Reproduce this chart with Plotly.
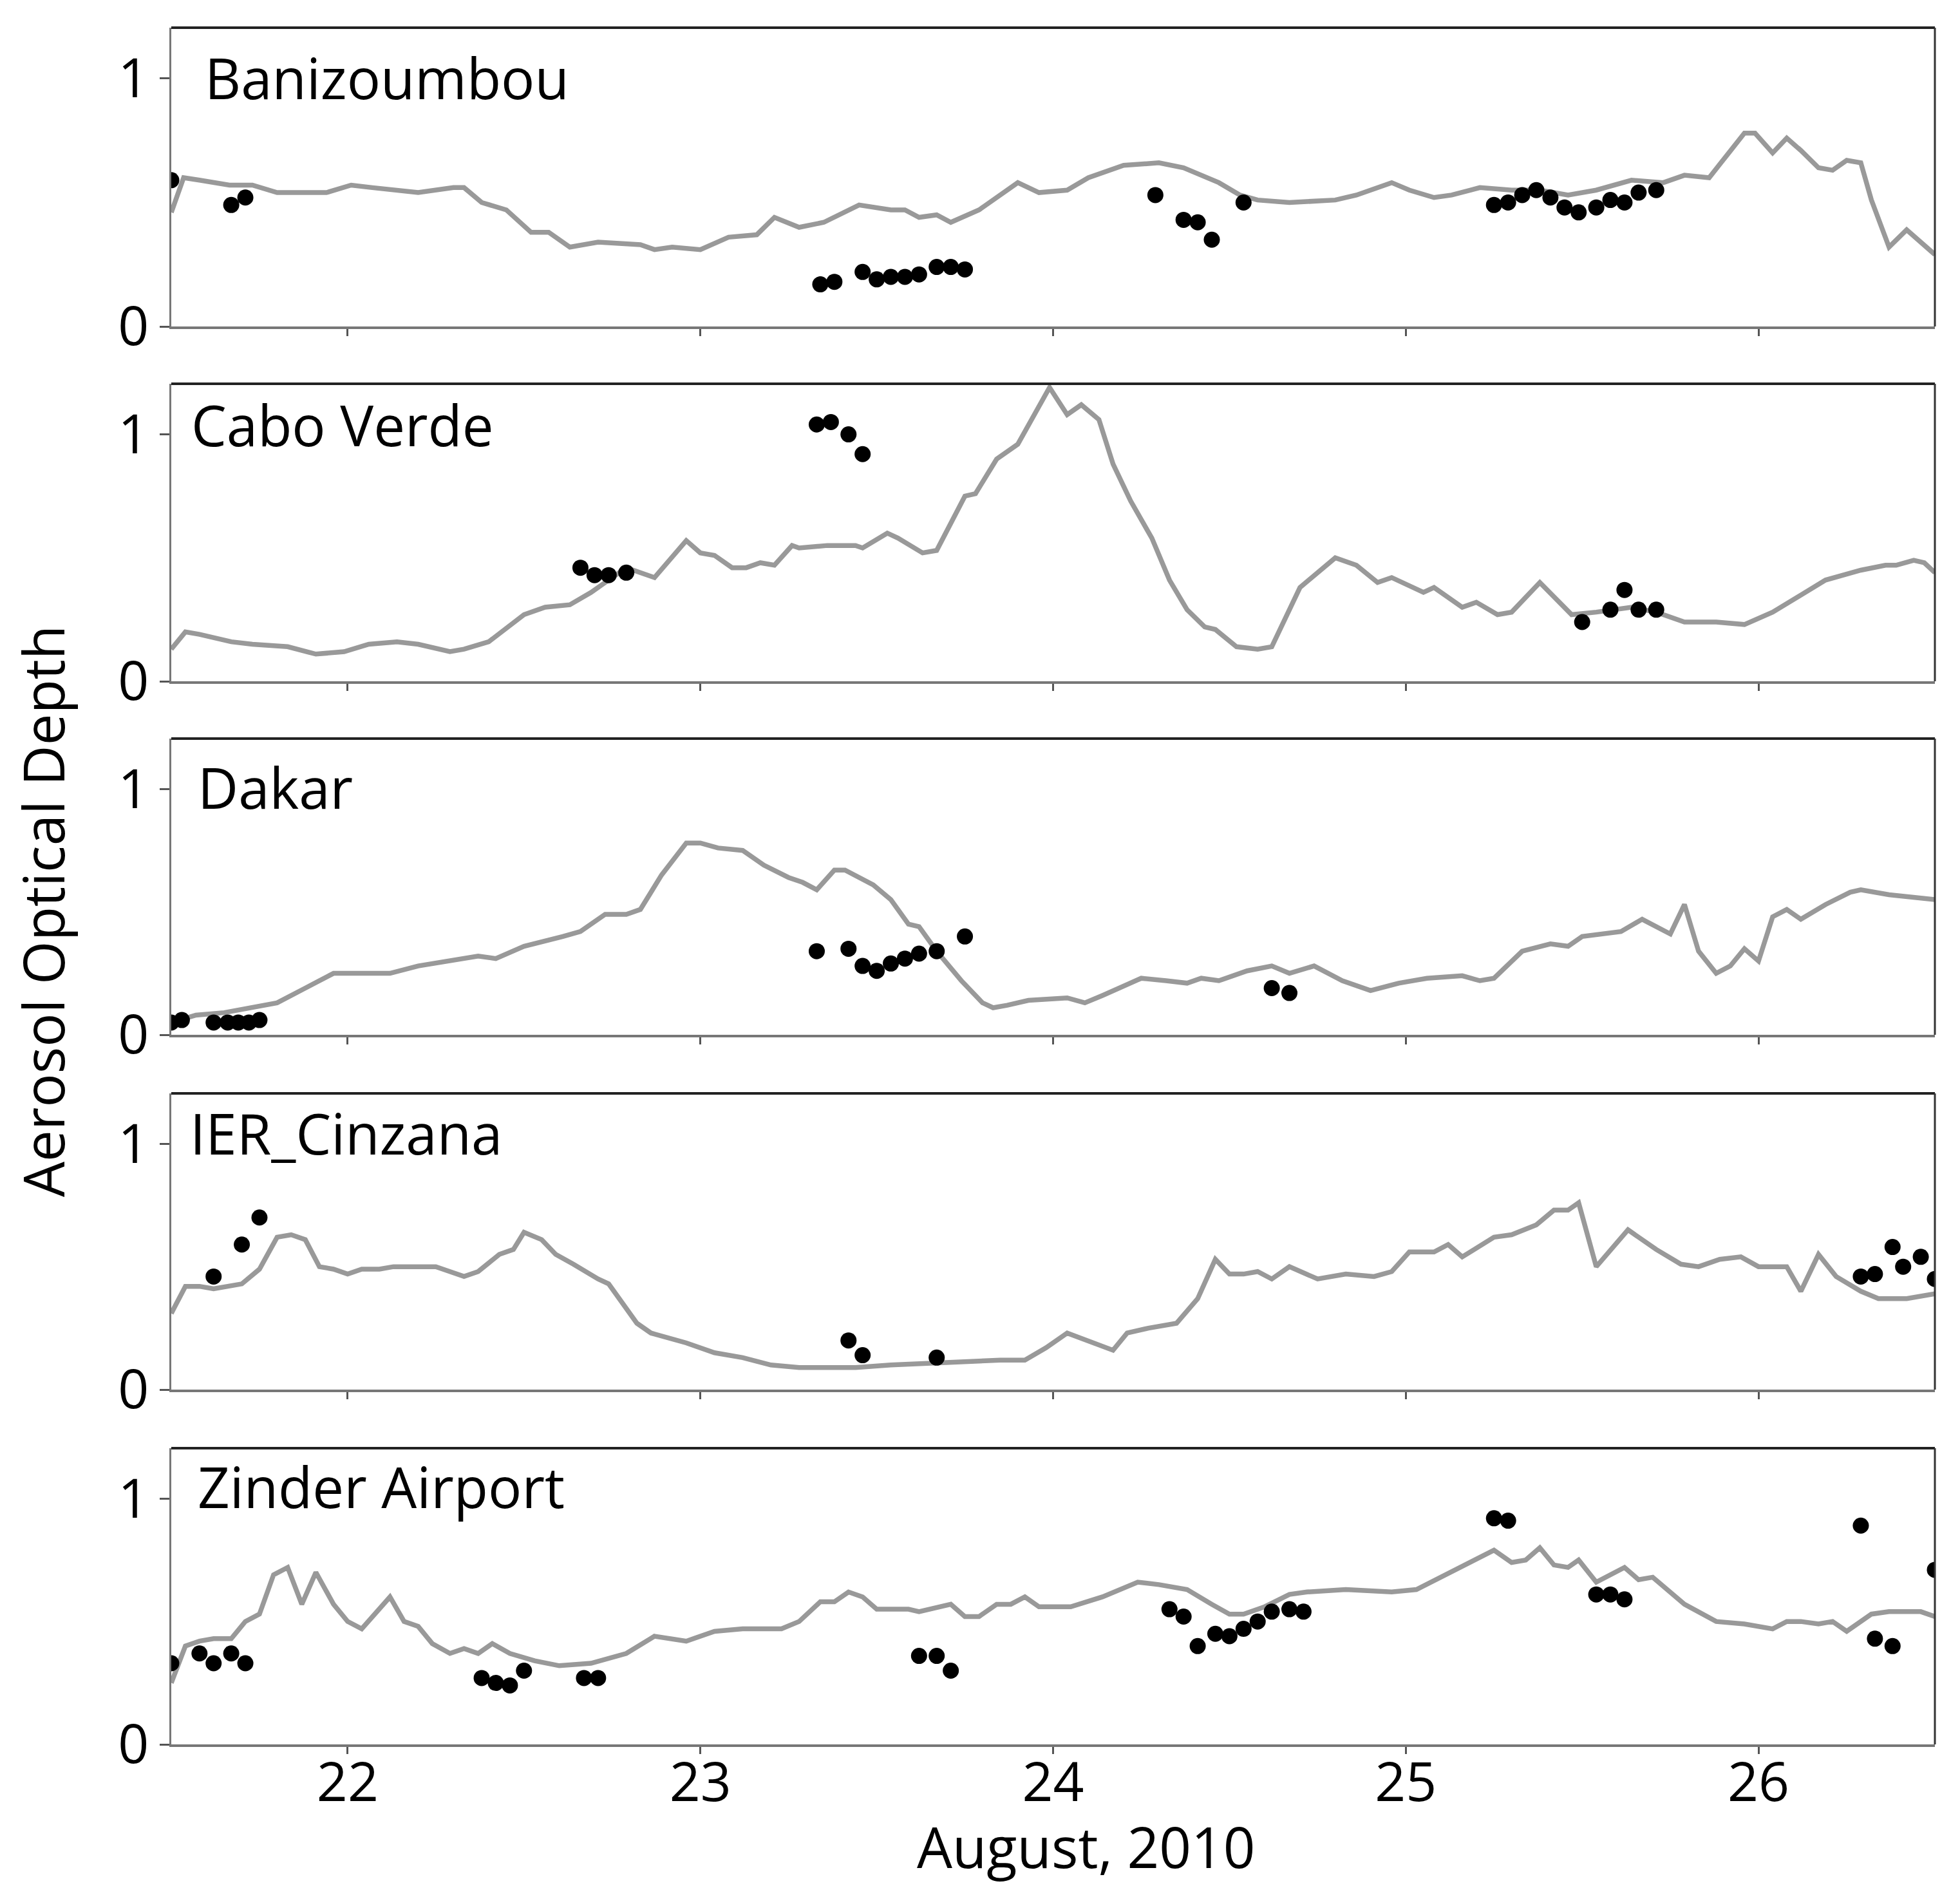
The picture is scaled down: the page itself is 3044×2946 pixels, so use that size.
import plotly.graph_objects as go

# ---------------- data ----------------
stations = ["Banizoumbou", "Cabo Verde", "Dakar", "IER_Cinzana", "Zinder Airport"]
x_tick_vals = [22, 23, 24, 25, 26]
x_tick_text = ["22", "23", "24", "25", "26"]
y_tick_vals = [0, 1]
y_tick_text = ["0", "1"]

# Banizoumbou
bani_model_day = [21.50, 21.535, 21.58, 21.665, 21.73, 21.80, 21.94, 22.01, 22.07, 22.20, 22.30, 22.33, 22.38, 22.45,
                  22.52, 22.57, 22.63, 22.71, 22.83, 22.87, 22.92, 23.00, 23.08, 23.16, 23.21, 23.28, 23.35, 23.45,
                  23.54, 23.58, 23.62, 23.67, 23.71, 23.79, 23.90, 23.96, 24.04, 24.10, 24.20, 24.30, 24.37, 24.47,
                  24.53, 24.58, 24.67, 24.80, 24.86, 24.96, 25.01, 25.08, 25.13, 25.21, 25.30, 25.38, 25.46, 25.54,
                  25.64, 25.73, 25.79, 25.86, 25.91, 25.96, 25.99, 26.04, 26.08, 26.12, 26.17, 26.21, 26.25, 26.29,
                  26.32, 26.37, 26.42, 26.46, 26.50]
bani_model_aod = [0.46, 0.60, 0.59, 0.57, 0.57, 0.54, 0.54, 0.57, 0.56, 0.54, 0.56, 0.56, 0.50, 0.47,
                  0.38, 0.38, 0.32, 0.34, 0.33, 0.31, 0.32, 0.31, 0.36, 0.37, 0.44, 0.40, 0.42, 0.49,
                  0.47, 0.47, 0.44, 0.45, 0.42, 0.47, 0.58, 0.54, 0.55, 0.60, 0.65, 0.66, 0.64, 0.58,
                  0.53, 0.51, 0.50, 0.51, 0.53, 0.58, 0.55, 0.52, 0.53, 0.56, 0.55, 0.55, 0.53, 0.55,
                  0.59, 0.58, 0.61, 0.60, 0.69, 0.78, 0.78, 0.70, 0.76, 0.71, 0.64, 0.63, 0.67, 0.66,
                  0.51, 0.32, 0.39, 0.34, 0.29]
bani_obs_day = [21.50, 21.67, 21.71, 23.34, 23.38, 23.46, 23.50, 23.54, 23.58, 23.62, 23.67, 23.71, 23.75,
                24.29, 24.37, 24.41, 24.45, 24.54, 25.25, 25.29, 25.33, 25.37, 25.41, 25.45, 25.49, 25.54,
                25.58, 25.62, 25.66, 25.71]
bani_obs_aod = [0.59, 0.49, 0.52, 0.17, 0.18, 0.22, 0.19, 0.20, 0.20, 0.21, 0.24, 0.24, 0.23,
                0.53, 0.43, 0.42, 0.35, 0.50, 0.49, 0.50, 0.53, 0.55, 0.52, 0.48, 0.46, 0.48,
                0.51, 0.50, 0.54, 0.55]

# Cabo Verde
cabo_model_day = [21.50, 21.54, 21.58, 21.67, 21.73, 21.83, 21.91, 21.99, 22.06, 22.14, 22.20, 22.29, 22.33, 22.40,
                  22.50, 22.56, 22.63, 22.69, 22.74, 22.79, 22.87, 22.96, 23.00, 23.04, 23.09, 23.13, 23.17, 23.21,
                  23.26, 23.28, 23.36, 23.44, 23.46, 23.53, 23.56, 23.63, 23.67, 23.75, 23.78, 23.84, 23.90, 23.99,
                  24.04, 24.08, 24.13, 24.17, 24.22, 24.28, 24.33, 24.38, 24.43, 24.46, 24.52, 24.58, 24.62, 24.70,
                  24.80, 24.86, 24.92, 24.96, 25.05, 25.08, 25.16, 25.20, 25.26, 25.30, 25.38, 25.47, 25.54, 25.64,
                  25.71, 25.79, 25.88, 25.96, 26.04, 26.12, 26.19, 26.29, 26.36, 26.39, 26.44, 26.47, 26.50]
cabo_model_aod = [0.13, 0.20, 0.19, 0.16, 0.15, 0.14, 0.11, 0.12, 0.15, 0.16, 0.15, 0.12, 0.13, 0.16,
                  0.27, 0.30, 0.31, 0.36, 0.41, 0.46, 0.42, 0.57, 0.52, 0.51, 0.46, 0.46, 0.48, 0.47,
                  0.55, 0.54, 0.55, 0.55, 0.54, 0.60, 0.58, 0.52, 0.53, 0.75, 0.76, 0.90, 0.96, 1.19,
                  1.08, 1.12, 1.06, 0.88, 0.73, 0.58, 0.41, 0.29, 0.22, 0.21, 0.14, 0.13, 0.14, 0.38,
                  0.50, 0.47, 0.40, 0.42, 0.36, 0.38, 0.30, 0.32, 0.27, 0.28, 0.40, 0.27, 0.28, 0.30,
                  0.28, 0.24, 0.24, 0.23, 0.28, 0.35, 0.41, 0.45, 0.47, 0.47, 0.49, 0.48, 0.44]
cabo_obs_day = [22.66, 22.70, 22.74, 22.79, 23.33, 23.37, 23.42, 23.46, 25.50, 25.58, 25.62, 25.66, 25.71]
cabo_obs_aod = [0.46, 0.43, 0.43, 0.44, 1.04, 1.05, 1.00, 0.92, 0.24, 0.29, 0.37, 0.29, 0.29]

# Dakar
dakar_model_day = [21.50, 21.57, 21.65, 21.73, 21.80, 21.88, 21.96, 22.01, 22.12, 22.20, 22.29, 22.37, 22.42, 22.50,
                   22.61, 22.66, 22.73, 22.79, 22.83, 22.89, 22.96, 23.00, 23.05, 23.12, 23.18, 23.25, 23.29, 23.33,
                   23.38, 23.41, 23.49, 23.54, 23.59, 23.62, 23.67, 23.74, 23.80, 23.83, 23.87, 23.93, 24.04, 24.09,
                   24.14, 24.25, 24.32, 24.38, 24.42, 24.47, 24.55, 24.62, 24.67, 24.74, 24.82, 24.90, 24.98, 25.06,
                   25.16, 25.21, 25.25, 25.33, 25.41, 25.46, 25.50, 25.61, 25.67, 25.71, 25.75, 25.79, 25.83, 25.88,
                   25.92, 25.96, 26.00, 26.04, 26.08, 26.12, 26.19, 26.26, 26.29, 26.37, 26.50]
dakar_model_aod = [0.05, 0.08, 0.09, 0.11, 0.13, 0.19, 0.25, 0.25, 0.25, 0.28, 0.30, 0.32, 0.31, 0.36,
                   0.40, 0.42, 0.49, 0.49, 0.51, 0.65, 0.78, 0.78, 0.76, 0.75, 0.69, 0.64, 0.62, 0.59,
                   0.67, 0.67, 0.61, 0.55, 0.45, 0.44, 0.34, 0.22, 0.13, 0.11, 0.12, 0.14, 0.15, 0.13,
                   0.16, 0.23, 0.22, 0.21, 0.23, 0.22, 0.26, 0.28, 0.25, 0.28, 0.22, 0.18, 0.21, 0.23,
                   0.24, 0.22, 0.23, 0.34, 0.37, 0.36, 0.40, 0.42, 0.47, 0.44, 0.41, 0.53, 0.34, 0.25,
                   0.28, 0.35, 0.30, 0.48, 0.51, 0.47, 0.53, 0.58, 0.59, 0.57, 0.55]
dakar_obs_day = [21.50, 21.53, 21.62, 21.66, 21.69, 21.72, 21.75, 23.33, 23.42, 23.46, 23.50, 23.54, 23.58,
                 23.62, 23.67, 23.75, 24.62, 24.67]
dakar_obs_aod = [0.05, 0.06, 0.05, 0.05, 0.05, 0.05, 0.06, 0.34, 0.35, 0.28, 0.26, 0.29, 0.31,
                 0.33, 0.34, 0.40, 0.19, 0.17]

# IER_Cinzana
cinz_model_day = [21.50, 21.54, 21.58, 21.62, 21.70, 21.75, 21.80, 21.84, 21.88, 21.92, 21.96, 22.00, 22.04, 22.09,
                  22.13, 22.25, 22.29, 22.33, 22.37, 22.43, 22.47, 22.50, 22.55, 22.59, 22.64, 22.71, 22.74, 22.78,
                  22.82, 22.86, 22.96, 23.04, 23.12, 23.20, 23.28, 23.36, 23.44, 23.54, 23.69, 23.85, 23.92, 23.98,
                  24.04, 24.10, 24.17, 24.21, 24.27, 24.35, 24.41, 24.46, 24.50, 24.54, 24.58, 24.62, 24.67, 24.75,
                  24.83, 24.91, 24.96, 25.01, 25.08, 25.12, 25.16, 25.25, 25.30, 25.37, 25.42, 25.46, 25.49, 25.54,
                  25.63, 25.71, 25.78, 25.83, 25.89, 25.95, 26.00, 26.08, 26.12, 26.17, 26.22, 26.29, 26.34, 26.42,
                  26.50]
cinz_model_aod = [0.31, 0.42, 0.42, 0.41, 0.43, 0.49, 0.62, 0.63, 0.61, 0.50, 0.49, 0.47, 0.49, 0.49,
                  0.50, 0.50, 0.48, 0.46, 0.48, 0.55, 0.57, 0.64, 0.61, 0.55, 0.51, 0.45, 0.43, 0.35,
                  0.27, 0.23, 0.19, 0.15, 0.13, 0.10, 0.09, 0.09, 0.09, 0.10, 0.11, 0.12, 0.12, 0.17,
                  0.23, 0.20, 0.16, 0.23, 0.25, 0.27, 0.37, 0.53, 0.47, 0.47, 0.48, 0.45, 0.50, 0.45,
                  0.47, 0.46, 0.48, 0.56, 0.56, 0.59, 0.54, 0.62, 0.63, 0.67, 0.73, 0.73, 0.76, 0.50,
                  0.65, 0.57, 0.51, 0.50, 0.53, 0.54, 0.50, 0.50, 0.40, 0.55, 0.46, 0.40, 0.37, 0.37,
                  0.39]
cinz_obs_day = [21.62, 21.70, 21.75, 23.42, 23.46, 23.67, 26.29, 26.33, 26.38, 26.41, 26.46, 26.50]
cinz_obs_aod = [0.46, 0.59, 0.70, 0.20, 0.14, 0.13, 0.46, 0.47, 0.58, 0.50, 0.54, 0.45]

# Zinder Airport
zind_model_day = [21.50, 21.54, 21.58, 21.62, 21.67, 21.71, 21.75, 21.79, 21.83, 21.87, 21.91, 21.96, 22.00, 22.04,
                  22.12, 22.16, 22.20, 22.24, 22.29, 22.33, 22.37, 22.41, 22.46, 22.53, 22.60, 22.69, 22.79, 22.87,
                  22.96, 23.04, 23.12, 23.23, 23.28, 23.34, 23.38, 23.42, 23.46, 23.50, 23.59, 23.62, 23.71, 23.75,
                  23.79, 23.84, 23.88, 23.92, 23.96, 24.05, 24.14, 24.24, 24.30, 24.38, 24.45, 24.50, 24.54, 24.60,
                  24.67, 24.72, 24.83, 24.96, 25.03, 25.10, 25.18, 25.25, 25.30, 25.34, 25.38, 25.42, 25.46, 25.49,
                  25.54, 25.62, 25.66, 25.70, 25.79, 25.88, 25.96, 26.04, 26.08, 26.12, 26.17, 26.21, 26.25, 26.32,
                  26.37, 26.46, 26.50]
zind_model_aod = [0.25, 0.40, 0.42, 0.43, 0.43, 0.50, 0.53, 0.69, 0.72, 0.57, 0.70, 0.57, 0.50, 0.47,
                  0.60, 0.50, 0.48, 0.41, 0.37, 0.39, 0.37, 0.41, 0.37, 0.34, 0.32, 0.33, 0.37, 0.44,
                  0.42, 0.46, 0.47, 0.47, 0.50, 0.58, 0.58, 0.62, 0.60, 0.55, 0.55, 0.54, 0.57, 0.52,
                  0.52, 0.57, 0.57, 0.60, 0.56, 0.56, 0.60, 0.66, 0.65, 0.63, 0.57, 0.53, 0.53, 0.56,
                  0.61, 0.62, 0.63, 0.62, 0.63, 0.68, 0.74, 0.79, 0.74, 0.75, 0.80, 0.73, 0.72, 0.75,
                  0.66, 0.72, 0.67, 0.68, 0.57, 0.50, 0.49, 0.47, 0.50, 0.50, 0.49, 0.50, 0.46, 0.53,
                  0.54, 0.54, 0.52]
zind_obs_day = [21.50, 21.58, 21.62, 21.67, 21.71, 22.38, 22.42, 22.46, 22.50, 22.67, 22.71, 23.62, 23.67,
                23.71, 24.33, 24.37, 24.41, 24.46, 24.50, 24.54, 24.58, 24.62, 24.67, 24.71, 25.25, 25.29,
                25.54, 25.58, 25.62, 26.29, 26.33, 26.38, 26.50]
zind_obs_aod = [0.33, 0.37, 0.33, 0.37, 0.33, 0.27, 0.25, 0.24, 0.30, 0.27, 0.27, 0.36, 0.36,
                0.30, 0.55, 0.52, 0.40, 0.45, 0.44, 0.47, 0.50, 0.54, 0.55, 0.54, 0.92, 0.91,
                0.61, 0.61, 0.59, 0.89, 0.43, 0.40, 0.71]

model_days = [bani_model_day, cabo_model_day, dakar_model_day, cinz_model_day, zind_model_day]
model_aods = [bani_model_aod, cabo_model_aod, dakar_model_aod, cinz_model_aod, zind_model_aod]
obs_days = [bani_obs_day, cabo_obs_day, dakar_obs_day, cinz_obs_day, zind_obs_day]
obs_aods = [bani_obs_aod, cabo_obs_aod, dakar_obs_aod, cinz_obs_aod, zind_obs_aod]

# ---------------- layout ----------------
W, H = 3044, 2946
OFF = 8  # page margin offset in px
FONT = "Open Sans"


def fx(px):
    return (px - OFF) / W


def fy(px):
    return 1 - (px - OFF) / H


panel_px = [(43, 507), (596, 1058), (1147, 1607), (1698, 2158), (2249, 2709)]  # top, bottom
x_dom = [fx(266), fx(3005)]
label_pos = [(316, 0.834), (295, 0.863), (305, 0.838), (293, 0.867), (305, 0.871)]

fig = go.Figure()
layout = dict(
    width=W, height=H,
    margin=dict(l=0, r=0, t=0, b=0, pad=0, autoexpand=False),
    paper_bgcolor="white", plot_bgcolor="white",
    showlegend=False,
    font=dict(family=FONT, color="black", size=84),
    annotations=[], shapes=[],
)

for i, name in enumerate(stations):
    xa = "x" if i == 0 else f"x{i+1}"
    ya = "y" if i == 0 else f"y{i+1}"
    fig.add_trace(go.Scatter(x=model_days[i], y=model_aods[i], xaxis=xa, yaxis=ya, mode="lines",
                             line=dict(color="#999999", width=7.5), hoverinfo="skip"))
    fig.add_trace(go.Scatter(x=obs_days[i], y=obs_aods[i], xaxis=xa, yaxis=ya, mode="markers",
                             marker=dict(color="black", size=25, line=dict(width=0)), hoverinfo="skip"))
    top, bot = panel_px[i]
    y_dom = [fy(bot), fy(top)]
    last = (i == len(stations) - 1)
    xaxis = dict(
        domain=x_dom, anchor=ya, range=[21.5, 26.5], automargin=False,
        tickmode="array", tickvals=x_tick_vals, ticktext=x_tick_text,
        showticklabels=last,
        ticks="outside", ticklen=11, tickwidth=2.5, tickcolor="#555555",
        showline=True, linecolor="#777777", linewidth=4, mirror=False,
        showgrid=False, zeroline=False,
        tickfont=dict(family=FONT, size=84, color="black"),
    )
    if last:
        xaxis["ticklabelstandoff"] = -28
    layout[f"xaxis{'' if i == 0 else i+1}"] = xaxis
    layout[f"yaxis{'' if i == 0 else i+1}"] = dict(
        domain=y_dom, anchor=xa, range=[0, 1.205], automargin=False,
        tickmode="array", tickvals=y_tick_vals, ticktext=y_tick_text,
        ticks="outside", ticklen=15, tickwidth=2.5, tickcolor="#555555",
        showline=True, linecolor="#777777", linewidth=3, mirror=False,
        showgrid=False, zeroline=False,
        tickfont=dict(family=FONT, size=84, color="black"),
    )
    # top & right frame lines
    layout["shapes"].append(dict(type="line", xref="paper", yref="paper",
                                 x0=x_dom[0], x1=x_dom[1], y0=y_dom[1], y1=y_dom[1],
                                 line=dict(color="#222222", width=4)))
    layout["shapes"].append(dict(type="line", xref="paper", yref="paper",
                                 x0=x_dom[1], x1=x_dom[1], y0=y_dom[0], y1=y_dom[1],
                                 line=dict(color="#333333", width=3)))
    lx, ly = label_pos[i]
    layout["annotations"].append(dict(
        text=name, xref="paper", yref="paper",
        x=fx(lx), y=y_dom[0] + ly * (y_dom[1] - y_dom[0]),
        xanchor="left", yanchor="middle", showarrow=False,
        font=dict(family=FONT, size=87, color="black"),
    ))

layout["annotations"].append(dict(
    text="Aerosol Optical Depth", xref="paper", yref="paper",
    x=fx(66), y=fy(1415), xanchor="center", yanchor="middle",
    textangle=-90, showarrow=False, font=dict(family=FONT, size=87, color="black"),
))
layout["annotations"].append(dict(
    text="August, 2010", xref="paper", yref="paper",
    x=fx(1687), y=fy(2867), xanchor="center", yanchor="middle",
    showarrow=False, font=dict(family=FONT, size=87, color="black"),
))

fig.update_layout(**layout)
fig.write_html("out.html")
